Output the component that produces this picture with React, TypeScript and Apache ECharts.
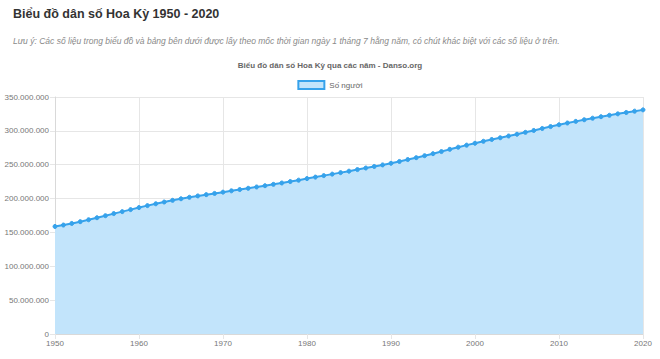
import React, { useEffect, useRef } from "react";
import * as echarts from "echarts";

const years: string[] = [];
for (let y = 1950; y <= 2020; y++) years.push(String(y));

// US population (millions), read off the chart / annual estimates
const populationMillions: number[] = [
  158.8, 160.9, 163.3, 165.9, 168.7, 171.7, 174.7, 177.8, 180.7, 183.7,
  186.7, 189.6, 192.3, 194.9, 197.4, 199.7, 201.9, 203.9, 205.8, 207.6,
  209.5, 211.4, 213.3, 215.2, 217.1, 219.0, 221.0, 223.0, 225.1, 227.2,
  229.5, 231.7, 233.9, 236.1, 238.3, 240.5, 242.8, 245.1, 247.4, 249.7,
  252.1, 254.8, 257.6, 260.4, 263.3, 266.3, 269.4, 272.7, 275.9, 278.9,
  281.7, 284.6, 287.3, 289.8, 292.4, 295.0, 297.8, 300.6, 303.5, 306.3,
  309.0, 311.6, 314.0, 316.4, 318.7, 320.9, 323.0, 325.1, 327.1, 329.1,
  331.0,
];

const seriesName = "Số người";
const pageTitle = "Biểu đồ dân số Hoa Kỳ 1950 - 2020";
const noteText =
  "Lưu ý: Các số liệu trong biểu đồ và bảng bên dưới được lấy theo mốc thời gian ngày 1 tháng 7 hằng năm, có chút khác biệt với các số liệu ở trên.";
const chartTitle = "Biểu đồ dân số Hoa Kỳ qua các năm - Danso.org";

function fmt(v: number): string {
  return Math.round(v).toString().replace(/\B(?=(\d{3})+(?!\d))/g, ".");
}

export default function App() {
  const ref = useRef<HTMLDivElement>(null);
  useEffect(() => {
    if (!ref.current) return;
    const chart = echarts.init(ref.current, undefined, { renderer: "svg" });
    const font = "Arial, 'Liberation Sans', sans-serif";
    chart.setOption({
      animation: false,
      backgroundColor: "#ffffff",
      textStyle: { fontFamily: font },
      title: [
        {
          text: pageTitle,
          left: 13,
          top: 7,
          padding: 0,
          textStyle: { fontSize: 12.5, fontWeight: "bold", color: "#333333", fontFamily: font },
        },
        {
          text: noteText,
          left: 13,
          top: 36,
          padding: 0,
          textStyle: { fontSize: 8.5, fontStyle: "italic", fontWeight: "normal", color: "#8a8a8a", fontFamily: font },
        },
        {
          text: chartTitle,
          left: "center",
          top: 61,
          padding: 0,
          textStyle: { fontSize: 8, fontWeight: "bold", color: "#666666", fontFamily: font },
        },
      ],
      legend: {
        top: 80,
        left: "center",
        padding: 0,
        icon: "rect",
        itemWidth: 26,
        itemHeight: 8,
        itemGap: 6,
        textStyle: { fontSize: 8, color: "#666666", fontFamily: font },
        itemStyle: { color: "#c2e4fb", borderColor: "#36a2eb", borderWidth: 2 },
        data: [seriesName],
      },
      grid: { left: 55, right: 17, top: 97, bottom: 25, containLabel: false },
      xAxis: {
        type: "category",
        data: years,
        boundaryGap: false,
        axisLine: { show: true, lineStyle: { color: "#d9d9d9" } },
        axisTick: { show: true, interval: 9, length: 5, lineStyle: { color: "#e6e6e6" } },
        axisLabel: { interval: 9, fontSize: 8, color: "#777777", margin: 5, fontFamily: font },
        splitLine: { show: true, interval: 9, lineStyle: { color: "#e6e6e6" } },
      },
      yAxis: {
        type: "value",
        min: 0,
        max: 350000000,
        interval: 50000000,
        axisLine: { show: true, lineStyle: { color: "#d9d9d9" } },
        axisTick: { show: true, length: 5, lineStyle: { color: "#e6e6e6" } },
        axisLabel: { fontSize: 8, color: "#777777", margin: 6, formatter: (v: number) => fmt(v), fontFamily: font },
        splitLine: { show: true, lineStyle: { color: "#e6e6e6" } },
      },
      series: [
        {
          name: seriesName,
          type: "line",
          data: populationMillions.map((v) => v * 1e6),
          symbol: "circle",
          symbolSize: 4,
          showSymbol: true,
          lineStyle: { color: "#36a2eb", width: 2 },
          itemStyle: { color: "#36a2eb", borderColor: "#36a2eb" },
          areaStyle: { color: "#c2e4fb", opacity: 1 },
        },
      ],
    });
    return () => chart.dispose();
  }, []);
  return (
    <div
      ref={ref}
      style={{ position: "fixed", left: 0, top: 0, width: 660, height: 359 }}
    />
  );
}
